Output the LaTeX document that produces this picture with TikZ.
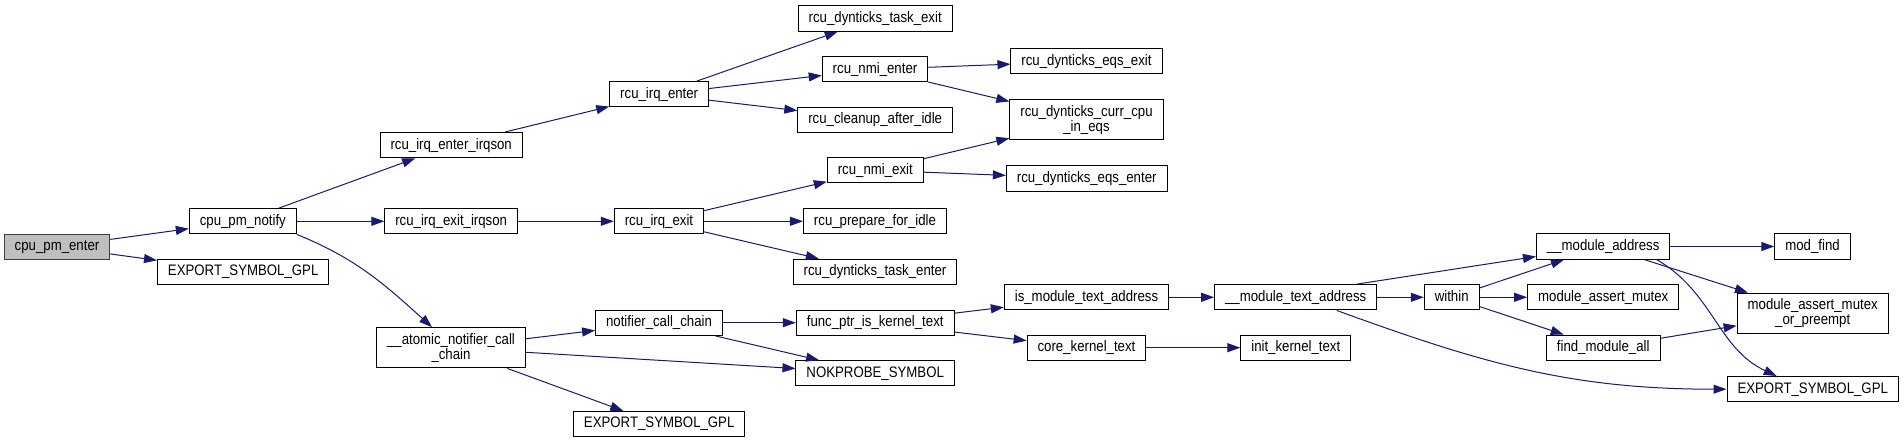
\documentclass[tikz,border=0pt]{standalone}
\usepackage{fontspec}
\setmainfont[FakeStretch=0.87]{Liberation Sans}
\usetikzlibrary{arrows.meta}
\definecolor{midnight}{HTML}{191970}
\definecolor{rootgrey}{HTML}{BFBFBF}
\definecolor{rootline}{HTML}{404040}
\newcommand{\fnfont}{\fontsize{15.2}{15}\selectfont}
\tikzset{box/.style={draw=black,line width=1pt,fill=white,inner xsep=10.5pt,inner ysep=0pt,align=center,font=\fnfont},fn/.style={box,minimum height=25.3pt,text height=10.9pt,text depth=3.2pt},fntwo/.style={box,minimum height=40.3pt},root/.style={fn,draw=rootline,fill=rootgrey},call/.style={draw=midnight,line width=1pt,-{Triangle[length=13pt,width=9pt]}}}
\begin{document}
\begin{tikzpicture}[x=1pt,y=1pt]
\useasboundingbox (0,0) rectangle (1904,-443);
\node[root] (pmenter) at (57,-246.7) {cpu\_pm\_enter};
\node[fn] (notify) at (242.8,-221.3) {cpu\_pm\_notify};
\node[fn] (expa) at (243.2,-272) {EXPORT\_SYMBOL\_GPL};
\node[fn] (irqsonin) at (451.2,-145.2) {rcu\_irq\_enter\_irqson};
\node[fn] (irqsonout) at (451.2,-221.3) {rcu\_irq\_exit\_irqson};
\node[fntwo] (atomic) at (451,-347.8) {\_\_atomic\_notifier\_call\\\_chain};
\node[fn] (irqin) at (659.2,-94.3) {rcu\_irq\_enter};
\node[fn] (irqout) at (659,-221.3) {rcu\_irq\_exit};
\node[fn] (chain) at (659,-322.7) {notifier\_call\_chain};
\node[fn] (expb) at (659.2,-424) {EXPORT\_SYMBOL\_GPL};
\node[fn] (taskout) at (875.2,-18.5) {rcu\_dynticks\_task\_exit};
\node[fn] (nmiin) at (875,-69.3) {rcu\_nmi\_enter};
\node[fn] (cleanup) at (875.2,-119.8) {rcu\_cleanup\_after\_idle};
\node[fn] (nmiout) at (875.3,-170.3) {rcu\_nmi\_exit};
\node[fn] (prepare) at (875,-221.3) {rcu\_prepare\_for\_idle};
\node[fn] (taskin) at (875,-271.8) {rcu\_dynticks\_task\_enter};
\node[fn] (fptr) at (875.2,-322.7) {func\_ptr\_is\_kernel\_text};
\node[fn] (nokprobe) at (875.2,-373.3) {NOKPROBE\_SYMBOL};
\node[fn] (eqsout) at (1086.5,-61.3) {rcu\_dynticks\_eqs\_exit};
\node[fntwo] (curreqs) at (1086.5,-119.8) {rcu\_dynticks\_curr\_cpu\\\_in\_eqs};
\node[fn] (eqsin) at (1086.7,-178.5) {rcu\_dynticks\_eqs\_enter};
\node[fn] (ismta) at (1086.5,-297.3) {is\_module\_text\_address};
\node[fn] (corekt) at (1086.5,-347.7) {core\_kernel\_text};
\node[fn] (mta) at (1295.7,-297.3) {\_\_module\_text\_address};
\node[fn] (initkt) at (1295.8,-347.7) {init\_kernel\_text};
\node[fn] (within) at (1451.7,-297.3) {within};
\node[fn] (maddr) at (1603.2,-246.5) {\_\_module\_address};
\node[fn] (amutex) at (1603.2,-297.3) {module\_assert\_mutex};
\node[fn] (findall) at (1603.2,-347.7) {find\_module\_all};
\node[fn] (modfind) at (1812.5,-246.5) {mod\_find};
\node[fntwo] (amutexp) at (1812.7,-313.3) {module\_assert\_mutex\\\_or\_preempt};
\node[fn] (expc) at (1812.7,-389.2) {EXPORT\_SYMBOL\_GPL};
\draw[call] (pmenter) -- (notify);
\draw[call] (pmenter) -- (expa);
\draw[call] (notify) -- (irqsonin);
\draw[call] (notify) -- (irqsonout);
\draw[call] (notify.south east) to[out=-22,in=138] ([xshift=-19pt]atomic.north);
\draw[call] (irqsonin) -- (irqin);
\draw[call] (irqsonout) -- (irqout);
\draw[call] (irqin) -- (taskout);
\draw[call] (irqin) -- (nmiin);
\draw[call] (irqin) -- (cleanup);
\draw[call] (nmiin) -- (eqsout);
\draw[call] (nmiin) -- (curreqs);
\draw[call] (irqout) -- (nmiout);
\draw[call] (irqout) -- (prepare);
\draw[call] (irqout) -- (taskin);
\draw[call] (nmiout) -- (curreqs);
\draw[call] (nmiout) -- (eqsin);
\draw[call] (atomic) -- (chain);
\draw[call] (atomic) -- (nokprobe);
\draw[call] (atomic) -- (expb);
\draw[call] (chain) -- (fptr);
\draw[call] (chain) -- (nokprobe);
\draw[call] (fptr) -- (ismta);
\draw[call] (fptr) -- (corekt);
\draw[call] (ismta) -- (mta);
\draw[call] (corekt) -- (initkt);
\draw[call] (mta) -- (within);
\draw[call] ([xshift=61pt]mta.north) -- ([yshift=-10pt]maddr.west);
\draw[call] ([xshift=41pt]mta.south) to[out=-20,in=180] (expc.west);
\draw[call] (within) -- (maddr);
\draw[call] (within) -- (amutex);
\draw[call] (within) -- (findall);
\draw[call] (maddr) -- (modfind);
\draw[call] (maddr) -- (amutexp);
\draw[call] ([xshift=53.5pt]maddr.south) to[out=-30,in=155] ([xshift=-36pt]expc.north);
\draw[call] (findall) -- (amutexp);
\end{tikzpicture}
\end{document}
